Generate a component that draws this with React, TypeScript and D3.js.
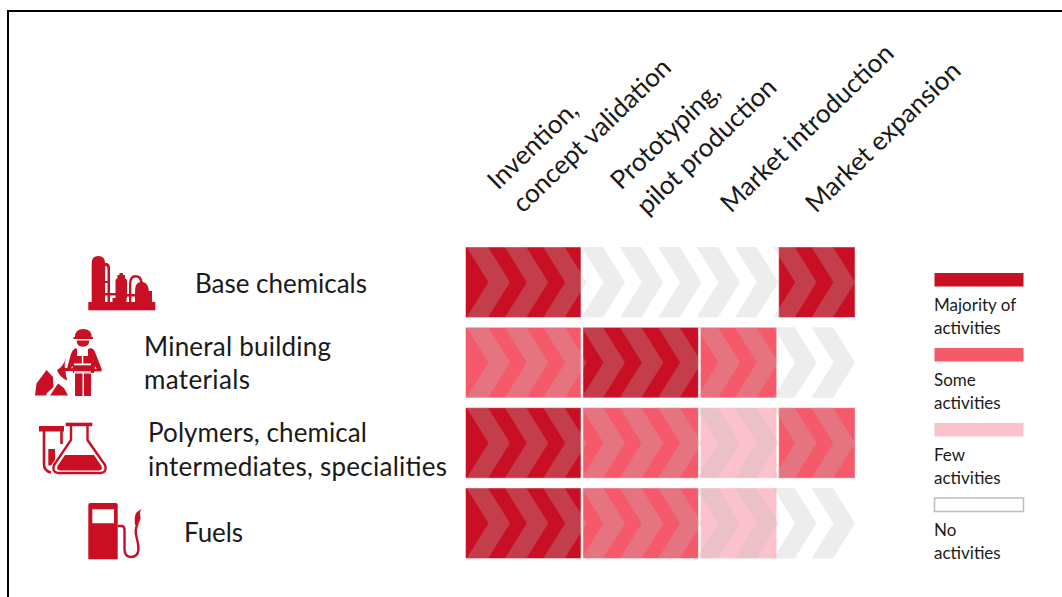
import React from "react";
import * as d3 from "d3";

// Innovation-stage coverage by product group
const stages = [
  ["Invention,", "concept validation"],
  ["Prototyping,", "pilot production"],
  ["Market introduction"],
  ["Market expansion"],
];
const stageSpans = [3, 3, 2, 2];
const sectors = ["Base chemicals", "Mineral building materials", "Polymers, chemical intermediates, specialities", "Fuels"];
const levelRows = [
  [3, 0, 0, 3],
  [2, 3, 2, 0],
  [3, 2, 1, 2],
  [3, 2, 1, 0],
];
const legendLevels = [3, 2, 1, 0];
const legendLines = [
  ["Majority of", "activities"],
  ["Some", "activities"],
  ["Few", "activities"],
  ["No", "activities"],
];
const sectorLines = [
  { lines: ["Base chemicals"], x: 195, y: [293], w: [172] },
  { lines: ["Mineral building", "materials"], x: 144, y: [356, 389], w: [187, 106] },
  { lines: ["Polymers, chemical", "intermediates, specialities"], x: 148, y: [442, 476], w: [219, 299] },
  { lines: ["Fuels"], x: 184, y: [542], w: [59] },
];
const headerAnchors = [
  [[498, 191], [523, 214]],
  [[621, 191], [647, 216]],
  [[731, 214]],
  [[816, 214]],
];

const FONT = "Lato, Carlito, 'Open Sans', sans-serif";
const RED = "#c80f23";

const levelColor = d3.scaleOrdinal<number, string>().domain([0, 1, 2, 3]).range(["none", "#fcc2cb", "#f55a6b", RED]);
const unitX = d3.scaleLinear().domain([0, 10]).range([464.5, 856]);
const rowY = d3.scaleLinear().domain([0, 3]).range([247, 488]);
const tipX = d3.scaleLinear().domain([0, 9]).range([510, 855]);
const ROW_H = 70.5;
const SLANT = 22;
const BODY = 21.5;
const chevronPath = (tip: number, top: number) => {
  const bottom = top + ROW_H;
  const mid = top + ROW_H / 2;
  const path = d3.path();
  path.moveTo(tip - SLANT - BODY, top);
  path.lineTo(tip - SLANT, top);
  path.lineTo(tip, mid);
  path.lineTo(tip - SLANT, bottom);
  path.lineTo(tip - SLANT - BODY, bottom);
  path.lineTo(tip - BODY, mid);
  path.closePath();
  return path.toString();
};

// Flat pictograms for the four product groups
const RefineryIcon = () => (
  <g fill={RED}>
    <rect x={88.3} y={302} width={67} height={8.300} />
    <path d="M91.700 302V263q0-7 6.600-7t6.700 7V302Z" />
    <path d="M105 263h1q4 0 4 5V302h-2.500V269q0-3-2.500-3h-0Z" />
    <path d="M105 281h3v2h-3ZM105 293h11v2.500h-11Z" />
    <path d="M112.500 298h14v4h-14Z" />
    <path d="M115.500 298V280l2-2v-3h2v-2h3.500v2h2v3l2 2V298Z" />
    <path d="M126 294h10v2.500h-10Z" />
    <path d="M129 302V284q0-9 6.500-9t7 7l-2.300 .5q-.5-5-4.700-5t-4.200 6.500V302Z" />
    <path d="M135 302V291q0-8 5-9l1-1 1 0 1 1q5 1 6 9h3v11Z" />
  </g>
);

const WorkerIcon = () => (
  <g fill={RED}>
    <path d="M75 337q0-8 8.300-8t8.300 8h1.400v2H73.500v-2Z" />
    <path d="M76.700 340.500h12.600q0 6-6.300 6.200t-6.300-6.200Z" />
    <path d="M75 348l2 1v7h11v-7l3-1q3 1 4 4l7 18-4 1-3-5-1 7H73l-.5-7-3 4-2.500-1.500 3-11q1.500-7 5-9Z" />
    <rect x={74} y={363.500} width={17} height={1.800} fill="#fff" />
    <rect x={74} y={371} width={17} height={1.800} fill="#fff" />
    <rect x={81.800} y={349} width={1.500} height={15} fill="#fff" />
    <path d="M75 373.500h7.500V396H75ZM84 373.500h7V396h-7Z" />
    <path d="M66 358q-2 7-1 10l36 1 .5 2.500-36-.5q0 5 2 9.500-8-3-10.500-10.500 6-3 9-12Z" />
    <path d="M35 395.500l1.500-12 10-13.500 6.500 7 .500 10-6.500 6-1 2.500ZM50 395.500l8-12 6 4.500 4 7.500Z" />
  </g>
);

const FlaskIcon = () => (
  <g>
    <rect x={39} y={426} width={25} height={5.500} fill={RED} />
    <path d="M44 431v33q0 7 7 8.500" fill="none" stroke={RED} strokeWidth={2.600} />
    <path d="M61.500 431v13" fill="none" stroke={RED} strokeWidth={2.600} />
    <path d="M48.300 449H55V460l-4 5.500h-2.700Z" fill={RED} />
    <rect x={65.700} y={422.700} width={26.600} height={3.500} fill={RED} />
    <path
      d="M71 426v14L54 465q-2.500 7 4 8H101q6.500-1 4-8L87.500 440v-14"
      fill="none"
      stroke={RED}
      strokeWidth={2.400}
    />
    <path d="M65 455H94L101.500 466q1.500 4-2.500 4.500H60q-4-.5-2.500-4.500Z" fill={RED} />
  </g>
);

const PumpIcon = () => (
  <g>
    <path
      fillRule="evenodd"
      d="M88.300 505q0-2 2-2H115.700q2 0 2 2V559.300H88.300ZM92.300 509.300v14H114v-14Z"
      fill={RED}
    />
    <path
      d="M117.700 526H122q2.500 .5 2.500 4V549q0 8 6.500 8t7.500-7q0-6-2-13-2-7 1-13"
      fill="none"
      stroke={RED}
      strokeWidth={2.400}
    />
    <path d="M135 525q-1-8 1-12 2-2 5.500-4l-1.500 3 .5 7-2.500 6Z" fill={RED} />
  </g>
);

const icons = [RefineryIcon, WorkerIcon, FlaskIcon, PumpIcon];

export default function App() {
  const textProps = { fontFamily: FONT, fill: "#1a1a1a" };
  const spanEdges = d3.cumsum(stageSpans);
  return (
    <svg width={1062} height={597} style={{ position: "absolute", left: 0, top: 0, background: "#fff" }}>
      <path d="M8 597V11H1062" fill="none" stroke="#000" strokeWidth={2} />

      {stages.map((lines, s) =>
        lines.map((line, l) => (
          <text
            key={`${s}-${l}`}
            transform={`translate(${headerAnchors[s][l][0]},${headerAnchors[s][l][1]}) rotate(-44)`}
            fontSize={26}
            {...textProps}
          >
            {line}
          </text>
        ))
      )}

      {levelRows.map((levels, r) => (
        <g key={sectors[r]}>
          {levels.map((level, s) =>
            level === 0 ? null : (
              <rect
                key={s}
                x={unitX(s === 0 ? 0 : spanEdges[s - 1]) + 1}
                y={rowY(r)}
                width={unitX(spanEdges[s]) - unitX(s === 0 ? 0 : spanEdges[s - 1]) - 2}
                height={ROW_H}
                fill={levelColor(level)}
                stroke="#fff"
                strokeOpacity={0.45}
              />
            )
          )}
          {d3.range(10).map((i) => (
            <path key={i} d={chevronPath(tipX(i), rowY(r))} fill="rgb(187,187,187)" fillOpacity={0.267} />
          ))}
        </g>
      ))}

      {sectorLines.map((s, i) => {
        const Icon = icons[i];
        return (
          <g key={i}>
            <Icon />
            {s.lines.map((line, l) => (
              <text key={l} x={s.x} y={s.y[l]} fontSize={26} textLength={s.w[l]} lengthAdjust="spacing" {...textProps}>
                {line}
              </text>
            ))}
          </g>
        );
      })}

      {legendLevels.map((level, i) => (
        <g key={level}>
          <rect
            x={934.5}
            y={273 + i * 75}
            width={89}
            height={13.5}
            fill={level === 0 ? "#fff" : levelColor(level)}
            stroke={level === 0 ? "#bdbdbd" : "none"}
            strokeWidth={1.5}
          />
          {legendLines[i].map((line, l) => (
            <text key={l} x={934} y={311 + i * 75 + l * 23} fontSize={17} {...textProps}>
              {line}
            </text>
          ))}
        </g>
      ))}
    </svg>
  );
}
